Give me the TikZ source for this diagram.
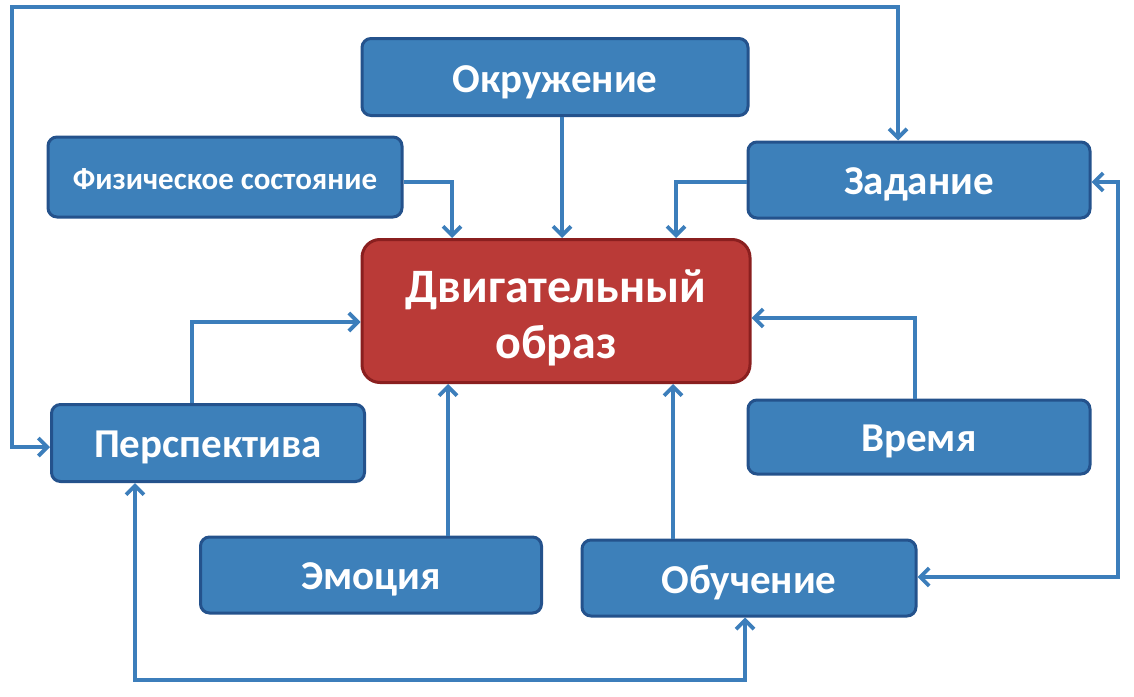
\documentclass[tikz,border=0pt]{standalone}
\usepackage{fontspec}
\setmainfont{Carlito}
\usetikzlibrary{arrows.meta}
\definecolor{boxfill}{HTML}{3D80BA}
\definecolor{boxline}{HTML}{24528C}
\definecolor{redfill}{HTML}{BA3A37}
\definecolor{redline}{HTML}{8A1F1F}
\definecolor{conn}{HTML}{3C7EBB}
\newcommand{\down}[2]{\raisebox{-#1}[\height][\depth]{#2}}
\tikzset{
  bluebox/.style={draw=boxline, fill=boxfill, line width=3pt, rounded corners=9pt, text=white, font=\bfseries\fontsize{41}{46}\selectfont, inner sep=0pt},
  redbox/.style={draw=redline, fill=redfill, line width=3pt, rounded corners=18pt, text=white, font=\bfseries\fontsize{48}{56}\selectfont, inner sep=0pt},
  conline/.style={draw=conn, line width=3.8pt},
  arr/.style={conline, -{Straight Barb[length=9pt,width=18pt,line width=3.8pt]}},
  darr/.style={conline, {Straight Barb[length=9pt,width=18pt,line width=3.8pt]}-{Straight Barb[length=9pt,width=18pt,line width=3.8pt]}}
}
\begin{document}
\begin{tikzpicture}[x=1pt,y=-1pt]
\useasboundingbox (0,0) rectangle (1134,696);
% boxes
\node[bluebox, minimum width=386pt, minimum height=77pt] (okr) at (555,77) {\down{5pt}{Окружение}};
\node[bluebox, minimum width=354pt, minimum height=80pt, font=\bfseries\fontsize{31}{36}\selectfont] (fiz) at (225,177) {\down{2pt}{Физическое состояние}};
\node[bluebox, minimum width=342pt, minimum height=76pt] (zad) at (919,180) {\down{4pt}{Задание}};
\node[redbox, minimum width=388pt, minimum height=143pt] (dvig) at (556,311) {\down{8pt}{\begin{tabular}{@{}c@{}}Двигательный\\образ\end{tabular}}};
\node[bluebox, minimum width=313pt, minimum height=77pt] (per) at (208,443) {\down{4pt}{Перспектива}};
\node[bluebox, minimum width=342pt, minimum height=74pt] (vr) at (919,437) {\down{4pt}{Время}};
\node[bluebox, minimum width=341pt, minimum height=76pt] (emo) at (371,575) {\down{4pt}{Эмоция}};
\node[bluebox, minimum width=334pt, minimum height=76pt] (obu) at (749,578) {\down{5pt}{Обучение}};
% coordinates
\coordinate (c1) at (12,447);
\coordinate (c2) at (12,7);
\coordinate (c3) at (898,7);
\coordinate (r1) at (1118,182);
\coordinate (r2) at (1118,577);
\coordinate (b1) at (135,680);
\coordinate (b2) at (745,680);
% connectors into main box
\draw[arr] (okr.south -| 562,0) -- (dvig.north -| 562,0);
\draw[arr] (fiz.east |- 0,182) -- (452,182) -- (dvig.north -| 452,0);
\draw[arr] (zad.west |- 0,182) -- (676,182) -- (dvig.north -| 676,0);
\draw[arr] (vr.north -| 915,0) -- (915,318) -- (dvig.east |- 0,318);
\draw[arr] (obu.north -| 673,0) -- (dvig.south -| 673,0);
\draw[arr] (emo.north -| 448,0) -- (dvig.south -| 448,0);
\draw[arr] (per.north -| 192,0) -- (192,322) -- (dvig.west |- 0,322);
% loops
\draw[darr] (per.west |- c1) -- (c1) -- (c2) -- (c3) -- (zad.north -| c3);
\draw[darr] (zad.east |- r1) -- (r1) -- (r2) -- (obu.east |- r2);
\draw[darr] (per.south -| b1) -- (b1) -- (b2) -- (obu.south -| b2);
\end{tikzpicture}
\end{document}
